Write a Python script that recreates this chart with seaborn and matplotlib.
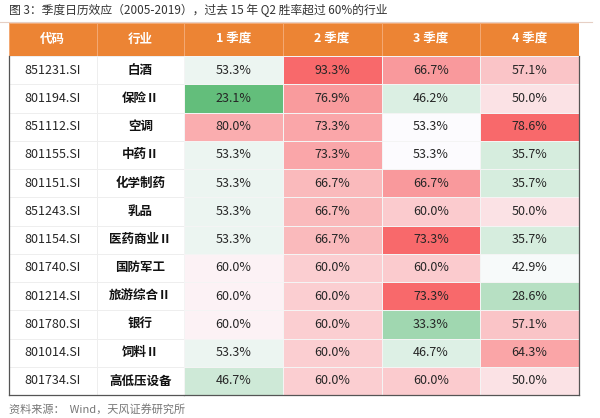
import numpy as np
import pandas as pd
import matplotlib
matplotlib.use("Agg")
import matplotlib.pyplot as plt
from matplotlib.colors import LinearSegmentedColormap, ListedColormap, TwoSlopeNorm
import seaborn as sns

codes = ["851231.SI", "801194.SI", "851112.SI", "801155.SI", "801151.SI", "851243.SI",
         "801154.SI", "801740.SI", "801214.SI", "801780.SI", "801014.SI", "801734.SI"]
industries = ["白酒", "保险Ⅱ", "空调", "中药Ⅱ", "化学制药", "乳品",
              "医药商业Ⅱ", "国防军工", "旅游综合Ⅱ", "银行", "饲料Ⅱ", "高低压设备"]
quarters = ["1 季度", "2 季度", "3 季度", "4 季度"]
q1 = [53.3, 23.1, 80.0, 53.3, 53.3, 53.3, 53.3, 60.0, 60.0, 60.0, 53.3, 46.7]
q2 = [93.3, 76.9, 73.3, 73.3, 66.7, 66.7, 66.7, 60.0, 60.0, 60.0, 60.0, 60.0]
q3 = [66.7, 46.2, 53.3, 53.3, 66.7, 60.0, 73.3, 60.0, 73.3, 33.3, 46.7, 60.0]
q4 = [57.1, 50.0, 78.6, 35.7, 35.7, 50.0, 35.7, 42.9, 28.6, 57.1, 64.3, 50.0]  # last one hidden by watermark

title = "图 3：季度日历效应（2005-2019），过去 15 年 Q2 胜率超过 60%的行业"
source = "资料来源：  Wind，天风证券研究所"

# per-column colour scale (min, mid, max) - mimics the excel conditional formatting
col_scales = [(23.1, 57.0, 100.0), (30.0, 45.0, 93.3), (20.0, 53.3, 73.3), (10.0, 44.0, 78.6)]

plt.rcParams['font.family'] = ['Noto Sans CJK SC', 'DejaVu Sans']

W, H = 600, 418
fig = plt.figure(figsize=(6, 4.18), dpi=100)

def box(x0, y0, x1, y1):
    # pixel box -> figure fraction
    return [x0 / W, 1 - y1 / H, (x1 - x0) / W, (y1 - y0) / H]

orange = "#EC8434"
grid = "#EEEEEE"
text_col = "#262626"

# header
hdr_left = fig.add_axes(box(9, 23, 184, 56))
hdr_right = fig.add_axes(box(184, 23, 579, 56))
for a, labels in [(hdr_left, ["代码", "行业"]), (hdr_right, quarters)]:
    sns.heatmap(np.zeros((1, len(labels))), ax=a, cmap=ListedColormap([orange]), cbar=False,
                annot=np.array([labels]), fmt="", linewidths=0.6, linecolor="#F3A872",
                annot_kws=dict(color="white", fontsize=9, fontweight="bold"))
    a.set_xticks([])
    a.set_yticks([])

# body: code / industry columns
body_left = fig.add_axes(box(9, 56, 184, 395))
left_df = pd.DataFrame({"代码": codes, "行业": industries})
sns.heatmap(np.zeros(left_df.shape), ax=body_left, cmap=ListedColormap(["white"]), cbar=False,
            annot=left_df.values, fmt="", linewidths=0.6, linecolor=grid,
            annot_kws=dict(color=text_col, fontsize=9))
for t in body_left.texts:
    if t.get_text() in industries:
        t.set_fontweight("bold")
        t.set_color("#111111")
body_left.set_xticks([])
body_left.set_yticks([])

# body: quarter win rates
vals = pd.DataFrame({"1季度": q1, "2季度": q2, "3季度": q3, "4季度": q4})
normed = np.zeros(vals.shape)
for j, (lo, mid, hi) in enumerate(col_scales):
    n = TwoSlopeNorm(vcenter=mid, vmin=lo, vmax=hi)
    normed[:, j] = n(vals.iloc[:, j].values)
cmap = LinearSegmentedColormap.from_list("gwr", ["#63BE7B", "#FCFCFF", "#F8696B"])
annot = vals.map(lambda v: f"{v:.1f}%").values

body_right = fig.add_axes(box(184, 56, 579, 395))
sns.heatmap(normed, ax=body_right, cmap=cmap, vmin=0, vmax=1, cbar=False,
            annot=annot, fmt="", linewidths=0.5, linecolor="#F4F4F4",
            annot_kws=dict(color=text_col, fontsize=9))
body_right.set_xticks([])
body_right.set_yticks([])

# outer border of the table
for a in [body_left, body_right]:
    for s in a.spines.values():
        s.set_visible(False)
body_left.spines["left"].set_visible(True)
body_left.spines["bottom"].set_visible(True)
body_right.spines["right"].set_visible(True)
body_right.spines["bottom"].set_visible(True)
for a in [body_left, body_right]:
    for s in a.spines.values():
        s.set_color("#555555")
        s.set_linewidth(0.9)

# title, rule and source
fig.text(9 / W, 1 - 10 / H, title, fontsize=8.5, color="#333333", va="center", ha="left")
fig.add_artist(plt.Line2D([0, 592 / W], [1 - 22 / H, 1 - 22 / H], color="#E6CFC4", lw=0.8))
fig.text(9 / W, 1 - 409 / H, source, fontsize=8, color="#777777", va="center", ha="left")

fig.savefig("out.png", dpi=100, facecolor="white")
